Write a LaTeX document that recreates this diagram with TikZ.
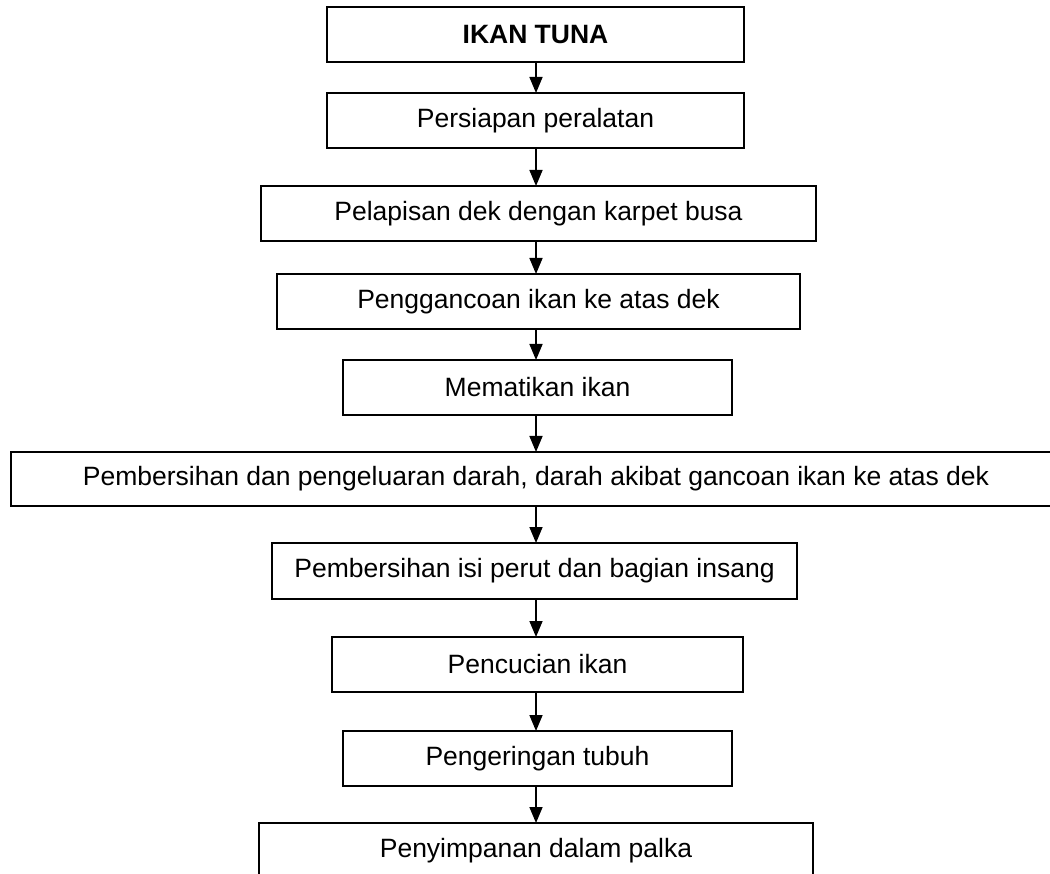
\documentclass[tikz,border=0pt]{standalone}
\usepackage{fontspec}
\setmainfont{Liberation Sans}
\usetikzlibrary{arrows.meta}
\begin{document}
\begin{tikzpicture}[x=1pt,y=-1pt,
  box/.style={draw=black,line width=1.6pt,rectangle,minimum height=55pt,inner sep=0pt,outer sep=0pt,
    font=\fontsize{26.5}{30}\selectfont,text=black},
  arr/.style={draw=black,line width=1.6pt,-{Triangle[width=13pt,length=16pt]}}]
\clip (0,0) rectangle (1050,874);
\fill[white] (0,0) rectangle (1050,874);
\node[box,minimum width=417pt] (b1) at (535.5,34.5) {\bfseries IKAN TUNA};
\node[box,minimum width=417pt] (b2) at (535.5,120.5) {Persiapan peralatan};
\node[box,minimum width=555pt] (b3) at (538.5,213.5) {Pelapisan dek dengan karpet busa};
\node[box,minimum width=523pt] (b4) at (538.5,301.5) {Penggancoan ikan ke atas dek};
\node[box,minimum width=389pt] (b5) at (537.5,387.5) {Mematikan ikan};
\node[box,minimum width=1050pt,minimum height=54pt] (b6) at (536,479) {Pembersihan dan pengeluaran darah, darah akibat gancoan ikan ke atas dek};
\node[box,minimum width=525pt,minimum height=56pt] (b7) at (534.5,571) {Pembersihan isi perut dan bagian insang};
\node[box,minimum width=411pt] (b8) at (537.5,664.5) {Pencucian ikan};
\node[box,minimum width=389pt] (b9) at (537.5,758.5) {Pengeringan tubuh};
\node[box,minimum width=554pt] (b10) at (536,850.5) {Penyimpanan dalam palka};
\coordinate (ax) at (536,0);
\foreach \a/\b in {b1/b2,b2/b3,b3/b4,b4/b5,b5/b6,b6/b7,b7/b8,b8/b9,b9/b10}
  \draw[arr] (ax |- \a.south) -- (ax |- \b.north);
\end{tikzpicture}
\end{document}
